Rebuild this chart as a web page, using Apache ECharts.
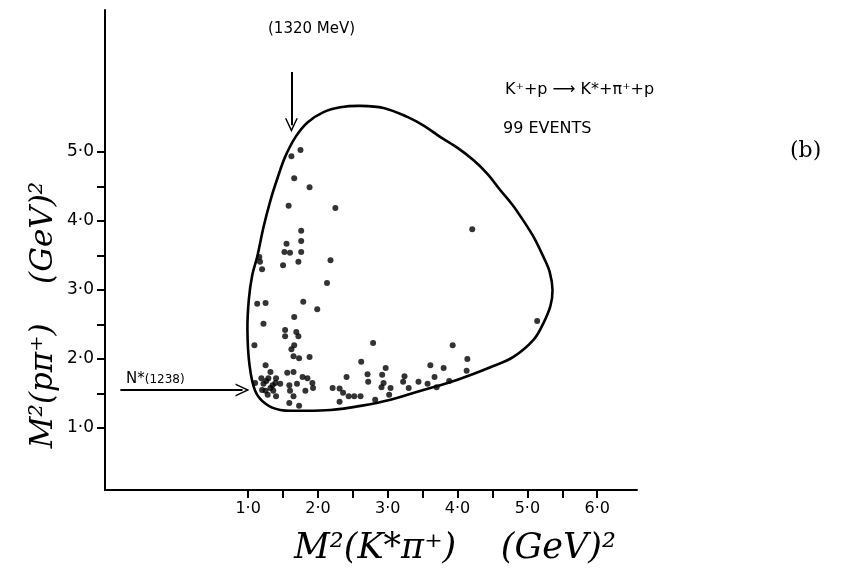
<!DOCTYPE html>
<html>
<head>
<meta charset="utf-8">
<title>Dalitz plot K+p → K*π+p</title>
<script src="https://cdn.jsdelivr.net/npm/echarts@6/dist/echarts.min.js"></script>
<style>
  html, body { margin: 0; padding: 0; background: #fff; }
  #chart { width: 844px; height: 571px; }
</style>
</head>
<body>
<div id="chart"></div>
<script>
// Event positions: [M²(K*π⁺), M²(pπ⁺)] in (GeV)²
const events = [
  [1.75, 5.03], [1.62, 4.94], [1.66, 4.62], [1.88, 4.49], [1.58, 4.22],
  [2.25, 4.19], [4.21, 3.88], [1.76, 3.86], [1.55, 3.67], [1.76, 3.71],
  [1.52, 3.55], [1.60, 3.54], [1.76, 3.55], [1.72, 3.41], [1.50, 3.36],
  [2.18, 3.43], [1.16, 3.48], [1.17, 3.41], [1.20, 3.30], [2.13, 3.10],
  [1.13, 2.80], [1.79, 2.83], [1.99, 2.72], [1.66, 2.61], [1.22, 2.51],
  [1.53, 2.42], [1.69, 2.39], [1.53, 2.33], [1.72, 2.33], [1.09, 2.20],
  [1.66, 2.20], [1.62, 2.14], [1.65, 2.04], [1.73, 2.01], [1.88, 2.03],
  [2.79, 2.23], [3.93, 2.20], [5.14, 2.55], [2.62, 1.96], [4.14, 2.00],
  [3.61, 1.91], [2.97, 1.87], [3.80, 1.87], [1.25, 1.91], [1.56, 1.80],
  [1.65, 1.81], [2.71, 1.78], [2.92, 1.77], [3.24, 1.75], [3.67, 1.74],
  [4.13, 1.83], [1.19, 1.72], [1.29, 1.72], [1.40, 1.72], [1.85, 1.72],
  [2.41, 1.74], [2.72, 1.67], [2.94, 1.65], [3.22, 1.67], [3.44, 1.67],
  [3.57, 1.64], [3.88, 1.68], [1.22, 1.64], [1.35, 1.62], [1.59, 1.62],
  [1.70, 1.64], [1.92, 1.65], [2.21, 1.58], [2.31, 1.57], [2.91, 1.59],
  [3.04, 1.58], [3.30, 1.58], [3.70, 1.59], [1.25, 1.54], [1.36, 1.54],
  [1.60, 1.54], [1.82, 1.54], [1.28, 1.48], [1.40, 1.46], [1.65, 1.46],
  [2.36, 1.51], [2.44, 1.46], [2.52, 1.46], [2.61, 1.46], [3.02, 1.48],
  [2.82, 1.41], [2.31, 1.38], [1.59, 1.36], [1.73, 1.32], [1.10, 1.65],
  [1.32, 1.81], [1.26, 1.68], [1.39, 1.65], [1.32, 1.58], [1.78, 1.74],
  [1.93, 1.58], [1.46, 1.64], [1.25, 2.81], [1.20, 1.55]
];

// Kinematic boundary of the Dalitz plot (closed contour, clockwise from the bottom)
const boundary = [
  [1.75, 1.25], [1.46, 1.26], [1.25, 1.35], [1.10, 1.54], [1.02, 1.91],
  [0.99, 2.42], [1.01, 2.86], [1.06, 3.22], [1.13, 3.48], [1.22, 3.91],
  [1.32, 4.30], [1.42, 4.62], [1.53, 4.93], [1.68, 5.22], [1.85, 5.43],
  [2.08, 5.58], [2.32, 5.65], [2.61, 5.67], [2.94, 5.64], [3.28, 5.51],
  [3.52, 5.38], [3.75, 5.22], [4.00, 5.06], [4.23, 4.88], [4.43, 4.68],
  [4.61, 4.45], [4.79, 4.23], [4.94, 4.01], [5.10, 3.75], [5.23, 3.48],
  [5.32, 3.26], [5.36, 3.00], [5.33, 2.77], [5.23, 2.52], [5.09, 2.28],
  [4.80, 2.03], [4.47, 1.88], [4.00, 1.70], [3.51, 1.55], [3.04, 1.41],
  [2.61, 1.32], [2.18, 1.26]
];

// Axis ticks and labels
const xTickValues = [1, 1.5, 2, 2.5, 3, 3.5, 4, 4.5, 5, 5.5, 6];
const xLabelValues = [1, 2, 3, 4, 5, 6];
const yTickValues = [1, 1.5, 2, 2.5, 3, 3.5, 4, 4.5, 5];
const yLabelValues = [1, 2, 3, 4, 5];

// Resonance markers: N*(1238) band and the 1320 MeV K*π state
const nStarArrow = [[-0.83, 1.55], [0.92, 1.55]];
const k1320Arrow = [[1.62, 6.16], [1.62, 5.39]];

const fmt = v => v.toFixed(1).replace('.', '·');
const ink = '#000';
const arrowHead = 'path://M0,12 L6,0 L12,12 L10.6,12 L6,3 L1.4,12 Z';

// Draws the whole contour once, as a smooth closed polygon through the data points
function renderBoundary(params, api) {
  if (params.dataIndexInside !== 0) return null;
  const pts = [];
  for (let i = 0; i < params.dataInsideLength; i++) {
    pts.push(api.coord([api.value(0, i), api.value(1, i)]));
  }
  return {
    type: 'polygon',
    shape: { points: pts, smooth: 0.35 },
    style: { fill: 'none', stroke: ink, lineWidth: 2.6 },
    silent: true
  };
}

const chart = echarts.init(document.getElementById('chart'), null, { renderer: 'canvas' });

chart.setOption({
  backgroundColor: '#fff',
  animation: false,
  grid: { left: 105, right: 207, top: 10, bottom: 81, containLabel: false },
  xAxis: {
    type: 'value',
    min: -1.05,
    max: 6.57,
    splitLine: { show: false },
    axisLine: { show: true, onZero: false, lineStyle: { color: ink, width: 2 } },
    axisTick: { show: true, customValues: xTickValues, length: 8, lineStyle: { color: ink, width: 2 } },
    axisLabel: {
      show: true, customValues: xLabelValues, formatter: fmt, margin: 11,
      color: ink, fontFamily: 'DejaVu Sans', fontSize: 16
    }
  },
  yAxis: {
    type: 'value',
    min: 0.1,
    max: 7.06,
    splitLine: { show: false },
    axisLine: { show: true, onZero: false, lineStyle: { color: ink, width: 2 } },
    axisTick: { show: true, customValues: yTickValues, length: 8, lineStyle: { color: ink, width: 2 } },
    axisLabel: {
      show: true, customValues: yLabelValues, formatter: fmt, margin: 11,
      color: ink, fontFamily: 'DejaVu Sans', fontSize: 17
    }
  },
  series: [
    {
      name: 'boundary',
      type: 'custom',
      data: boundary,
      renderItem: renderBoundary,
      encode: { x: 0, y: 1 },
      z: 2,
      silent: true
    },
    {
      name: 'events',
      type: 'scatter',
      data: events,
      symbol: 'circle',
      symbolSize: 6,
      itemStyle: { color: ink },
      z: 3,
      markLine: {
        silent: true,
        symbol: ['none', arrowHead],
        symbolSize: [13, 14],
        label: { show: false },
        lineStyle: { color: ink, width: 2, type: 'solid' },
        data: [
          [{ coord: nStarArrow[0] }, { coord: nStarArrow[1] }],
          [{ coord: k1320Arrow[0] }, { coord: k1320Arrow[1] }]
        ]
      }
    }
  ],
  graphic: [
    {
      type: 'text', left: 268, top: 22,
      style: { text: '(1320 MeV)', fill: ink, font: '15px "DejaVu Sans"' }
    },
    {
      type: 'text', left: 505, top: 82,
      style: { text: 'K⁺+p ⟶ K*+π⁺+p', fill: ink, font: '16px "DejaVu Sans"' }
    },
    {
      type: 'text', left: 503, top: 121,
      style: { text: '99 EVENTS', fill: ink, font: '16px "DejaVu Sans"' }
    },
    {
      type: 'text', left: 790, top: 140,
      style: { text: '(b)', fill: ink, font: '22px "DejaVu Serif"' }
    },
    {
      type: 'text', left: 126, top: 372,
      style: {
        text: '{a|N*}{b|(1238)}', fill: ink,
        rich: {
          a: { font: '15px "DejaVu Sans"', fill: ink },
          b: { font: '12px "DejaVu Sans"', fill: ink }
        }
      }
    },
    {
      type: 'text', x: 455, y: 549,
      style: {
        text: 'M²(K*π⁺)    (GeV)²', fill: ink,
        font: 'italic 35px "DejaVu Serif"', align: 'center', verticalAlign: 'middle'
      }
    },
    {
      type: 'text', x: 44, y: 315, rotation: Math.PI / 2,
      style: {
        text: 'M²(pπ⁺)    (GeV)²', fill: ink,
        font: 'italic 31px "DejaVu Serif"', align: 'center', verticalAlign: 'middle'
      }
    }
  ]
});
</script>
</body>
</html>
